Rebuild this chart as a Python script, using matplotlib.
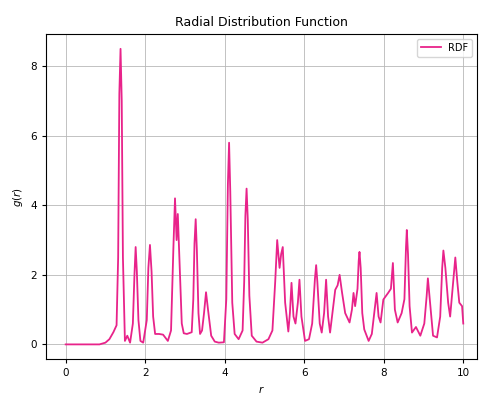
import matplotlib
matplotlib.use("Agg")
import matplotlib.pyplot as plt

# values (peaks and valleys of g(r))
r = [0.0, 0.85, 1.0, 1.1, 1.2, 1.28, 1.32, 1.35, 1.38, 1.41, 1.44, 1.49,
     1.55, 1.62, 1.69, 1.73, 1.76, 1.79, 1.83, 1.88, 1.95, 2.04, 2.08, 2.12, 2.16, 2.2,
     2.25, 2.35, 2.45, 2.57, 2.65, 2.71, 2.75, 2.79, 2.82, 2.87,
     2.92, 2.97, 3.05, 3.17, 3.21, 3.24, 3.27, 3.3, 3.34, 3.38, 3.43, 3.48,
     3.53, 3.58, 3.66, 3.75, 3.85, 3.98, 4.04, 4.08, 4.11, 4.14, 4.19, 4.25, 4.35,
     4.45, 4.49, 4.52, 4.55, 4.58, 4.62, 4.68, 4.8, 4.95, 5.1, 5.2, 5.27,
     5.32, 5.38, 5.42, 5.46, 5.52, 5.6, 5.64, 5.68, 5.73, 5.78,
     5.84, 5.88, 5.93, 6.02, 6.12, 6.2, 6.27, 6.3, 6.33, 6.39, 6.44, 6.5,
     6.55, 6.6, 6.65, 6.72, 6.78, 6.84, 6.89, 6.95, 7.03, 7.14,
     7.2, 7.24, 7.28, 7.34, 7.37, 7.39, 7.42, 7.46, 7.51, 7.62, 7.7, 7.77,
     7.82, 7.87, 7.92, 7.99, 8.11, 8.18, 8.23, 8.28, 8.35, 8.45,
     8.52, 8.56, 8.58, 8.61, 8.65, 8.71, 8.81, 8.92, 9.02, 9.08, 9.11, 9.15,
     9.24, 9.34, 9.42, 9.47, 9.5, 9.55, 9.62, 9.67, 9.73, 9.8,
     9.85, 9.9, 9.97, 10.0]
g = [0.0, 0.0, 0.05, 0.15, 0.35, 0.55, 2.5, 7.2, 8.5, 7.0, 2.5, 0.1,
     0.25, 0.05, 0.6, 2.0, 2.8, 2.1, 0.7, 0.1, 0.05, 0.7, 2.2, 2.86, 2.1, 0.8,
     0.3, 0.3, 0.28, 0.1, 0.4, 2.8, 4.2, 3.0, 3.75, 2.2,
     0.6, 0.32, 0.3, 0.35, 1.3, 2.9, 3.6, 2.7, 0.9, 0.3, 0.4, 0.9,
     1.5, 1.0, 0.25, 0.08, 0.05, 0.06, 1.3, 4.6, 5.8, 4.4, 1.2, 0.3, 0.15,
     0.4, 1.8, 3.7, 4.48, 3.6, 1.4, 0.25, 0.08, 0.05, 0.15, 0.4, 1.8,
     3.0, 2.2, 2.6, 2.8, 1.2, 0.37, 0.9, 1.77, 0.8, 0.6,
     1.2, 1.86, 0.8, 0.1, 0.15, 0.6, 1.9, 2.28, 1.8, 0.6, 0.34, 0.9,
     1.86, 0.8, 0.34, 1.0, 1.57, 1.7, 2.0, 1.5, 0.9, 0.63,
     1.0, 1.48, 1.1, 1.6, 2.4, 2.66, 2.2, 0.9, 0.43, 0.1, 0.3, 1.0,
     1.48, 0.8, 0.63, 1.29, 1.48, 1.6, 2.34, 1.0, 0.63, 0.9,
     1.3, 2.8, 3.29, 2.6, 1.1, 0.34, 0.5, 0.25, 0.6, 1.4, 1.9, 1.4,
     0.25, 0.2, 0.8, 2.2, 2.7, 2.2, 1.2, 0.8, 1.6, 2.5,
     1.8, 1.2, 1.1, 0.6]

fig = plt.figure(figsize=(4.82, 3.96), dpi=100)
ax = fig.add_axes([0.095, 0.093, 0.895, 0.821])

ax.plot(r, g, color="#e8238a", lw=1.3, label="RDF")
ax.set_xlim(-0.5, 10.35)
ax.set_ylim(-0.425, 8.925)
ax.set_xticks([0, 2, 4, 6, 8, 10])
ax.set_yticks([0, 2, 4, 6, 8])
ax.tick_params(labelsize=7.5, length=3)
ax.grid(True, lw=0.6, color="#b8b8b8")
ax.set_title("Radial Distribution Function", fontsize=9)
ax.set_xlabel("$r$", fontsize=7.5)
ax.set_ylabel("$g(r)$", fontsize=7.5)
ax.legend(loc="upper right", fontsize=7)

fig.savefig("out.png", dpi=100)
